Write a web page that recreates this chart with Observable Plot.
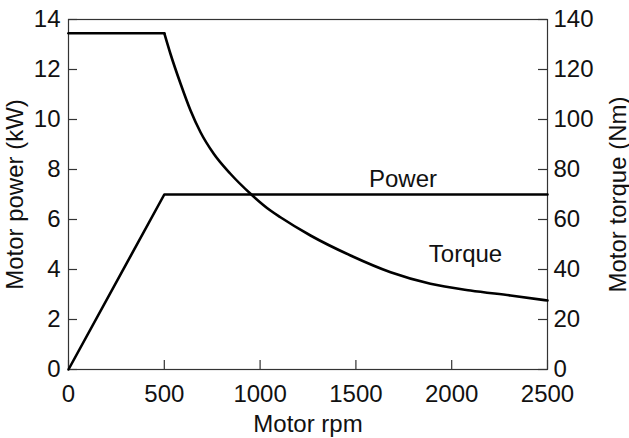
<!DOCTYPE html>
<html>
<head>
<meta charset="utf-8">
<script src="https://cdn.jsdelivr.net/npm/d3@7"></script>
<script src="https://cdn.jsdelivr.net/npm/@observablehq/plot@0.6"></script>
<style>
  html, body { margin: 0; padding: 0; background: #fff; }
  #chart svg { display: block; }
</style>
</head>
<body>
<div id="chart"></div>
<script>
// Motor speed (rpm) vs power (kW)
const powerRpm = [0, 500, 2500];
const powerKW = [0, 7, 7];

// Motor speed (rpm) vs torque (Nm)
const torqueRpm = [0, 500, 532, 585, 637, 689, 758, 845, 950, 1054, 1106, 1263, 1472, 1681, 1889, 2098, 2307, 2500];
const torqueNm  = [134.5, 134.5, 126.3, 114.3, 103.6, 94.9, 86.3, 78.3, 70.3, 63.6, 60.9, 53.6, 45.6, 38.9, 34.3, 31.6, 29.6, 27.6];

const rpmTicks = [0, 500, 1000, 1500, 2000, 2500];
const powerTicks = [0, 2, 4, 6, 8, 10, 12, 14];
const torqueTicks = [0, 20, 40, 60, 80, 100, 120, 140];

const annotations = [
  {rpm: 1746, kw: 7.62, text: "Power"},
  {rpm: 2072, kw: 4.62, text: "Torque"}
];

const powerData = powerRpm.map((r, i) => ({rpm: r, kw: powerKW[i]}));
// torque drawn on the power axis: 10 Nm per kW grid unit (140 Nm ↔ 14 kW)
const torqueData = torqueRpm.map((r, i) => ({rpm: r, v: torqueNm[i] / 10}));

const W = 629, H = 438;
const mL = 68, mR = 82, mT = 19, mB = 69;
const fw = W - mL - mR, fh = H - mT - mB;
const tick = 9;
const axisColor = "#333";
const fs = 24;

const chart = Plot.plot({
  width: W,
  height: H,
  marginLeft: mL,
  marginRight: mR,
  marginTop: mT,
  marginBottom: mB,
  style: {fontFamily: "'Liberation Sans', Arial, Helvetica, sans-serif", fontSize: fs + "px", color: "#111", background: "#fff"},
  x: {domain: [0, 2500]},
  y: {domain: [0, 14]},
  marks: [
    Plot.frame({stroke: axisColor, strokeWidth: 1.2}),
    // inward tick marks
    Plot.tickY(powerTicks, {y: d => d, stroke: axisColor, strokeWidth: 1.2, insetRight: fw - tick}),
    Plot.tickY(powerTicks, {y: d => d, stroke: axisColor, strokeWidth: 1.2, insetLeft: fw - tick}),
    Plot.tickX(rpmTicks, {x: d => d, stroke: axisColor, strokeWidth: 1.2, insetTop: fh - tick}),
    Plot.axisX({ticks: rpmTicks, tickSize: 0, tickPadding: 15, tickFormat: d => String(d),
      label: "Motor rpm", labelAnchor: "center", labelArrow: "none", labelOffset: 62}),
    Plot.axisY({anchor: "left", ticks: powerTicks, tickSize: 0, tickPadding: 8, tickFormat: d => String(d),
      label: "Motor power (kW)", labelAnchor: "center", labelArrow: "none", labelOffset: 63}),
    Plot.axisY({anchor: "right", ticks: powerTicks, tickSize: 0, tickPadding: 6, tickFormat: (d, i) => String(torqueTicks[i]),
      label: "Motor torque (Nm)", labelAnchor: "center", labelArrow: "none", labelOffset: 78}),
    Plot.line(powerData, {x: "rpm", y: "kw", stroke: "#000", strokeWidth: 2.6}),
    Plot.line(torqueData.slice(0, 2), {x: "rpm", y: "v", stroke: "#000", strokeWidth: 2.6}),
    Plot.line(torqueData.slice(1), {x: "rpm", y: "v", stroke: "#000", strokeWidth: 2.6, curve: "monotone-x"}),
    Plot.text(annotations, {x: "rpm", y: "kw", text: "text", fontSize: fs, fill: "#111", textAnchor: "middle", lineAnchor: "middle"})
  ]
});

document.getElementById("chart").appendChild(chart);
</script>
</body>
</html>
